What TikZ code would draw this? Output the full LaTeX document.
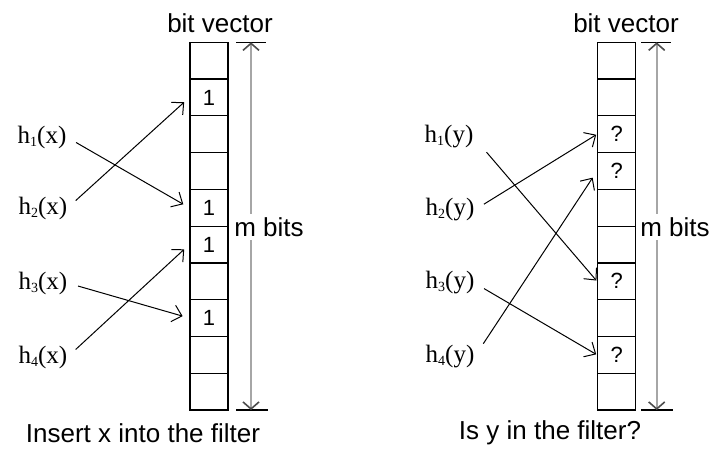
\documentclass[tikz,border=0pt]{standalone}
\usepackage{fontspec}
\setmainfont{Liberation Sans}
\newfontfamily\hfont{Liberation Serif}
\usetikzlibrary{arrows.meta}
\newcommand{\hlab}[2]{{\hfont h\raisebox{-3pt}{\fontsize{14}{14}\selectfont #1}(#2)}}
\tikzset{
  cell/.style={draw, line width=1.3pt, minimum width=38pt, minimum height=36.77pt, inner sep=0pt, font=\fontsize{22}{24}\selectfont},
  hlabel/.style={inner sep=0pt, font=\fontsize{25}{28}\selectfont},
  txt/.style={inner sep=0pt, font=\fontsize{26}{30}\selectfont},
  hasharrow/.style={-{Straight Barb[length=9pt,width=17pt]}, line width=1pt},
  dimline/.style={gray!70, line width=1.6pt, {Straight Barb[length=7pt,width=16pt,black!70]}-{Straight Barb[length=7pt,width=16pt,black!70]}},
  tick/.style={line width=1.3pt}
}
\begin{document}
\begin{tikzpicture}[x=1pt,y=-1pt]
\useasboundingbox (0,0) rectangle (711,452);
% ---------- left panel ----------
\foreach \i/\t in {0/{},1/1,2/{},3/{},4/1,5/1,6/{},7/1,8/{},9/{}}
  \node[cell] (L\i) at (209,{42.3+36.77*(\i+0.5)}) {\t};
\node[txt] (Lbv) at (220,23) {bit vector};
\coordinate (Lt1) at (236,42.3); \coordinate (Lt2) at (266,42.3);
\coordinate (Lb1) at (236,410); \coordinate (Lb2) at (268,410);
\draw[tick] (Lt1) -- (Lt2);
\draw[tick] (Lb1) -- (Lb2);
\coordinate (Ltop) at (251,42.3); \coordinate (Lbot) at (251,410);
\draw[dimline] (Ltop) -- (Lbot);
\node[txt, fill=white, inner xsep=1pt, inner ysep=3pt] (Lm) at (269,227) {m bits};
\node[hlabel] (hx1) at (42,137) {\hlab{1}{x}};
\node[hlabel] (hx2) at (43,208) {\hlab{2}{x}};
\node[hlabel] (hx3) at (43,283) {\hlab{3}{x}};
\node[hlabel] (hx4) at (43,357) {\hlab{4}{x}};
\draw[hasharrow, shorten <=11pt, shorten >=7pt] (hx1.east) -- (L4.west);
\draw[hasharrow, shorten <=11pt, shorten >=7pt] (hx2.east) -- (L1.west);
\draw[hasharrow, shorten <=11pt, shorten >=7pt] (hx3.east) -- (L7.west);
\draw[hasharrow, shorten <=11pt, shorten >=7pt] (hx4.east) -- (L5.west);
\node[txt] (Lcap) at (143,433) {Insert x into the filter};
% ---------- right panel ----------
\foreach \i/\t in {0/{},1/{},2/?,3/?,4/{},5/{},6/?,7/{},8/?,9/{}}
  \node[cell] (R\i) at (616.7,{42.3+36.77*(\i+0.5)}) {\t};
\node[txt] (Rbv) at (626,23) {bit vector};
\coordinate (Rt1) at (641,42.3); \coordinate (Rt2) at (671,42.3);
\coordinate (Rb1) at (641,410); \coordinate (Rb2) at (673,410);
\draw[tick] (Rt1) -- (Rt2);
\draw[tick] (Rb1) -- (Rb2);
\coordinate (Rtop) at (656.7,42.3); \coordinate (Rbot) at (656.7,410);
\draw[dimline] (Rtop) -- (Rbot);
\node[txt, fill=white, inner xsep=1pt, inner ysep=3pt] (Rm) at (675,227) {m bits};
\node[hlabel] (hy1) at (449,137) {\hlab{1}{y}};
\node[hlabel] (hy2) at (450,210) {\hlab{2}{y}};
\node[hlabel] (hy3) at (450,283) {\hlab{3}{y}};
\node[hlabel] (hy4) at (450,357) {\hlab{4}{y}};
\draw[hasharrow, shorten <=20pt, shorten >=1pt] (hy1.east) -- (R6.west);
\draw[hasharrow, shorten <=11pt, shorten >=1pt] (hy2.east) -- (R2.west);
\draw[hasharrow, shorten <=11pt, shorten >=1pt] (hy3.east) -- (R8.west);
\draw[hasharrow, shorten <=16pt, shorten >=8pt] (hy4.east) -- (R3.west);
\node[txt] (Rcap) at (550,433) {Is y in the filter?};
\end{tikzpicture}
\end{document}
